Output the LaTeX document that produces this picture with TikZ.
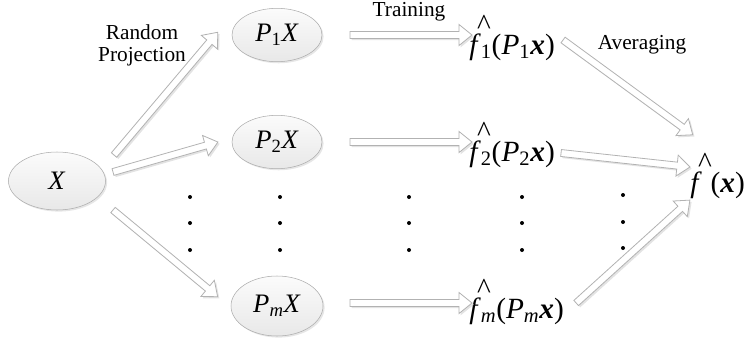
\documentclass[tikz,border=0pt]{standalone}
\usepackage{fontspec}
\setmainfont{Liberation Serif}
\usetikzlibrary{shapes.geometric,calc,shadows}

\tikzset{
  blob/.style={ellipse, draw=gray!65, top color=gray!3, bottom color=gray!18,
    inner sep=0pt, minimum width=67.5pt, minimum height=40pt,
    drop shadow={opacity=0.2,shadow xshift=1.2pt,shadow yshift=-1.2pt},
    font=\fontsize{20}{24}\selectfont},
  est/.style={inner sep=0pt, font=\fontsize{22}{26}\selectfont},
  lbl/.style={font=\fontsize{16}{16.5}\selectfont, align=center},
  fatarrow/.style={draw=gray!60, fill=white, line width=0.6pt, line join=miter},
  fatshadow/.style={fill=gray!22},
}

% italic letters, hat and bold x in the text font
\newcommand{\iv}[1]{\textit{#1}}
\newcommand{\fhat}{\rlap{\hspace{0.27em}\raisebox{0.68em}{\^{}}}\textit{f}}
\newcommand{\bx}{\textbf{\textit{x}}}

% hollow block arrow between two points
\newcommand{\hollowarrow}[2]{%
  \path let \p1=#1, \p2=#2 in \pgfextra{%
    \pgfmathsetmacro\arrlen{veclen(\x2-\x1,\y2-\y1)}%
    \pgfmathsetmacro\arrang{atan2(\y2-\y1,\x2-\x1)}%
    \global\let\arrlen\arrlen\global\let\arrang\arrang};
  \fill[fatshadow, shift={#1}, xshift=1.3pt, yshift=-1.3pt, rotate=\arrang]
    (0pt,-2.6pt) -- (\arrlen pt-9.75pt,-2.6pt) -- (\arrlen pt-9.75pt,-7.9pt)
    -- (\arrlen pt,0pt) -- (\arrlen pt-9.75pt,7.9pt) -- (\arrlen pt-9.75pt,2.6pt)
    -- (0pt,2.6pt) -- cycle;
  \draw[fatarrow, shift={#1}, rotate=\arrang]
    (0pt,-2.6pt) -- (\arrlen pt-9.75pt,-2.6pt) -- (\arrlen pt-9.75pt,-7.9pt)
    -- (\arrlen pt,0pt) -- (\arrlen pt-9.75pt,7.9pt) -- (\arrlen pt-9.75pt,2.6pt)
    -- (0pt,2.6pt) -- cycle;
}

\begin{document}
\begin{tikzpicture}[x=0.75pt,y=-0.75pt]
  \useasboundingbox (0,0) rectangle (753,347);

  % Data and projections
  \node[blob, minimum width=72.75pt, minimum height=43.5pt] (x) at (57,181) {\iv{X}};
  \node[blob] (p1) at (277,35) {\iv{P}\textsubscript{1}\iv{X}};
  \node[blob] (p2) at (277,142) {\iv{P}\textsubscript{2}\iv{X}};
  \node[blob, minimum width=69pt, minimum height=45pt] (pm) at (277,306) {\iv{P}\textsubscript{\iv{m}}\iv{X}};

  % Trained estimators
  \node[est, anchor=base west] (f1) at (469,54) {\fhat\textsubscript{1}(\iv{P}\textsubscript{1}\bx)};
  \node[est, anchor=base west] (f2) at (469,161) {\fhat\textsubscript{2}(\iv{P}\textsubscript{2}\bx)};
  \node[est, anchor=base west] (fm) at (469,318) {\fhat\textsubscript{\iv{m}}(\iv{P}\textsubscript{\iv{m}}\bx)};
  \node[est, anchor=base west] (f) at (690,192) {\fhat\hspace{0.3em}(\bx)};

  % Stage labels
  \node[lbl] (rp) at (142,45) {Random\\Projection};
  \node[lbl] (tr) at (409,12) {Training};
  \node[lbl] (av) at (642,45) {Averaging};

  % Random projection arrows
  \hollowarrow{($(x)+(57,-26)$)}{($(p1)+(-59,-3)$)}
  \hollowarrow{($(x)+(56,-9)$)}{($(p2)+(-59,0)$)}
  \hollowarrow{($(x)+(56,29)$)}{($(pm)+(-59,-9)$)}

  % Training arrows
  \hollowarrow{($(p1)+(73,0)$)}{($(f1.west |- p1)+(3,0)$)}
  \hollowarrow{($(p2)+(73,0)$)}{($(f2.west |- p2)+(3,0)$)}
  \hollowarrow{($(pm)+(73,-3)$)}{($(fm.west |- pm)+(3,-3)$)}

  % Averaging arrows
  \hollowarrow{($(f1.base east)+(8,-14)$)}{($(f.base west)+(3,-57)$)}
  \hollowarrow{($(f2.base east)+(6,-8)$)}{($(f.base west)+(0,-25)$)}
  \hollowarrow{($(fm.base east)+(12,-15)$)}{($(f.base west)+(0,8)$)}

  % Vertical dots
  \foreach \cx in {190,280,409,522}
    \foreach \cy in {197,223,250}
      \fill (\cx,\cy) circle (1.5pt);
  \foreach \cy in {195,222,248}
    \fill (623,\cy) circle (1.5pt);
\end{tikzpicture}
\end{document}
